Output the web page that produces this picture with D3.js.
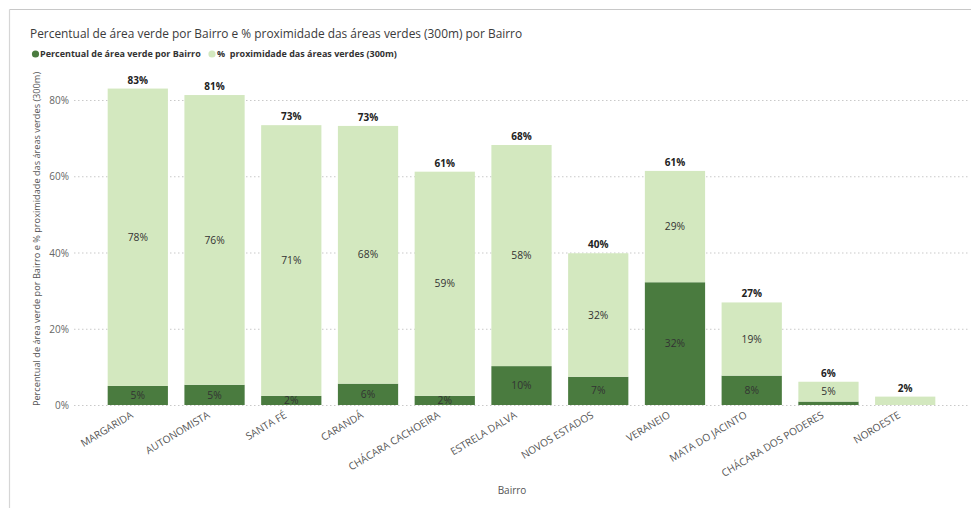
<!DOCTYPE html>
<html>
<head>
<meta charset="utf-8">
<script src="https://cdn.jsdelivr.net/npm/d3@7/dist/d3.min.js"></script>
<style>
  html, body { margin: 0; padding: 0; background: #fff; }
  svg { display: block; font-family: "Open Sans", "Noto Sans", sans-serif; }
</style>
</head>
<body>
<svg id="chart" width="971" height="510"></svg>
<script>
// Neighbourhoods (Bairro)
const bairros = [
  "MARGARIDA", "AUTONOMISTA", "SANTA FÉ", "CARANDÁ", "CHÁCARA CACHOEIRA",
  "ESTRELA DALVA", "NOVOS ESTADOS", "VERANEIO", "MATA DO JACINTO",
  "CHÁCARA DOS PODERES", "NOROESTE"
];
// Percentual de área verde por Bairro
const areaVerde = [5.0, 5.3, 2.4, 5.6, 2.4, 10.2, 7.4, 32.2, 7.7, 0.9, 0.0];
// % proximidade das áreas verdes (300m)
const proximidade = [78.0, 76.0, 71.0, 67.6, 58.8, 58.0, 32.4, 29.2, 19.2, 5.2, 2.2];
// Y axis ticks
const yTicks = [0, 20, 40, 60, 80];

const seriesNames = ["Percentual de área verde por Bairro", "%  proximidade das áreas verdes (300m)"];
const colors = ["#4a7b3f", "#d3e8bf"];

const svg = d3.select("#chart");

// card frame
svg.append("line").attr("x1", 9.5).attr("x2", 971).attr("y1", 9.5).attr("y2", 9.5)
  .attr("stroke", "#c8c8c8").attr("stroke-width", 1.2);
svg.append("line").attr("x1", 9.5).attr("x2", 9.5).attr("y1", 9.5).attr("y2", 508)
  .attr("stroke", "#d6d6d6").attr("stroke-width", 1.2);

// title
svg.append("text").attr("x", 30).attr("y", 38)
  .attr("font-size", 11.9).attr("fill", "#3b3b3b")
  .text("Percentual de área verde por Bairro e % proximidade das áreas verdes (300m) por Bairro");

// legend
const legend = svg.append("g").attr("font-size", 9).attr("font-weight", "bold").attr("fill", "#333");
legend.append("circle").attr("cx", 35.5).attr("cy", 54).attr("r", 3.6).attr("fill", colors[0]);
legend.append("text").attr("x", 40).attr("y", 57.3).text(seriesNames[0]);
legend.append("circle").attr("cx", 212).attr("cy", 54).attr("r", 3.6).attr("fill", colors[1]);
legend.append("text").attr("x", 217).attr("y", 57.3).attr("xml:space", "preserve").text(seriesNames[1]);

// scales
const x = d3.scaleBand().domain(bairros).range([100, 943]).paddingInner(0.215).paddingOuter(0.1);
const y = d3.scaleLinear().domain([0, 80]).range([405, 100]);

// grid lines
const grid = svg.append("g");
grid.selectAll("line").data(yTicks).join("line")
  .attr("x1", 74).attr("x2", 968)
  .attr("y1", d => y(d) + 0.5).attr("y2", d => y(d) + 0.5)
  .attr("stroke", "#c9c9c9").attr("stroke-width", 1)
  .attr("stroke-dasharray", "1.5,2.5");

// y axis
const yAxis = svg.append("g").attr("transform", "translate(69,0)")
  .call(d3.axisLeft(y).tickValues(yTicks).tickSize(0).tickPadding(0).tickFormat(d => d + "%"));
yAxis.select(".domain").remove();
yAxis.selectAll("text").attr("font-size", 10).attr("fill", "#666")
  .attr("font-family", "\"Open Sans\", sans-serif").attr("dy", "0.35em");

// y axis title
svg.append("text")
  .attr("transform", "translate(40,239) rotate(-90)")
  .attr("text-anchor", "middle").attr("font-size", 9.2).attr("fill", "#555")
  .text("Percentual de área verde por Bairro e % proximidade das áreas verdes (300m)");

// stacked data
const rows = bairros.map((b, i) => ({ bairro: b, s0: areaVerde[i], s1: proximidade[i] }));
const stack = d3.stack().keys(["s0", "s1"])(rows);

const layers = svg.append("g").selectAll("g").data(stack).join("g")
  .attr("fill", (d, i) => colors[i]);
layers.selectAll("rect").data(d => d).join("rect")
  .attr("x", d => x(d.data.bairro))
  .attr("width", x.bandwidth())
  .attr("y", d => y(d[1]))
  .attr("height", d => y(d[0]) - y(d[1]));

// segment labels
const segLabels = svg.append("g").attr("font-size", 10.3).attr("fill", "#333").attr("text-anchor", "middle");
stack.forEach(layer => {
  layer.forEach(d => {
    const v = d[1] - d[0];
    if (v < 2.3) return;
    segLabels.append("text")
      .attr("x", x(d.data.bairro) + x.bandwidth() / 2)
      .attr("y", (y(d[0]) + y(d[1])) / 2)
      .attr("dy", "0.35em")
      .text(Math.round(v) + "%");
  });
});

// totals
svg.append("g").attr("font-size", 10).attr("font-weight", "bold").attr("fill", "#222").attr("text-anchor", "middle")
  .selectAll("text").data(rows).join("text")
  .attr("x", d => x(d.bairro) + x.bandwidth() / 2)
  .attr("y", d => y(d.s0 + d.s1) - 5)
  .text(d => Math.round(d.s0 + d.s1) + "%");

// x axis labels
svg.append("g").attr("font-size", 10.2).attr("fill", "#555").attr("text-anchor", "end")
  .selectAll("text").data(bairros).join("text")
  .attr("transform", d => `translate(${x(d) + x.bandwidth() / 2 - 4},417) rotate(-31)`)
  .text(d => d);

// x axis title
svg.append("text").attr("x", 512).attr("y", 494).attr("text-anchor", "middle")
  .attr("font-size", 10).attr("fill", "#555").text("Bairro");
</script>
</body>
</html>
